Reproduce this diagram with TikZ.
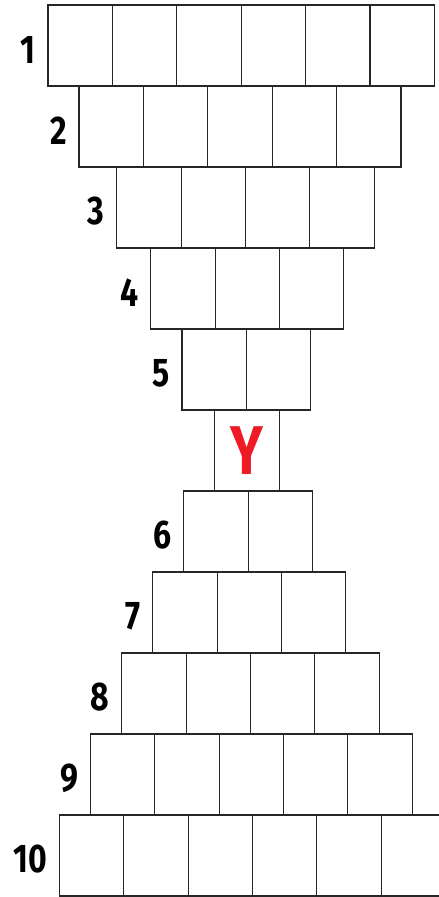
\documentclass[tikz,border=0pt]{standalone}
\usepackage{fontspec}
\newfontfamily\lblfont[FakeStretch=0.8]{Fira Sans}
\definecolor{yred}{HTML}{ED1C24}
\definecolor{edge}{HTML}{262626}
\begin{document}
\begin{tikzpicture}[x=1pt,y=-1pt,
  cell/.style={draw=edge,line width=1.1pt,fill=white,minimum width=64.4pt,minimum height=81pt,inner sep=0pt,outer sep=0pt,anchor=north west},
  rowlabel/.style={anchor=east,inner sep=0pt,font=\lblfont\bfseries\fontsize{40}{40}\selectfont},
  ylabel/.style={font=\lblfont\bfseries\fontsize{69}{69}\selectfont,text=yred,inner sep=0pt}]
\useasboundingbox (0,0) rectangle (439,897);
\clip (0,0) rectangle (439,897);
% top half rows: label / count / left x / top y
\foreach \lab/\n/\x/\y in {1/6/48/5, 2/5/79/86, 3/4/116.7/167, 4/3/150.7/248, 5/2/182/329}{
  \foreach \c in {1,...,\n}{
    \node[cell] (r\lab c\c) at ({\x+(\c-1)*64.4},\y) {};
  }
  \node[rowlabel] (lab\lab) at ({\x-12},{\y+44.5}) {\lab};
}
% centre cell
\node[cell] (ycell) at (214.7,410) {};
\node[ylabel] (ytext) at (247,450.5) {Y};
% bottom half rows
\foreach \lab/\n/\x/\y in {6/2/183.7/491, 7/3/152.7/572, 8/4/121.7/653, 9/5/90.3/734, 10/6/59.3/815}{
  \foreach \c in {1,...,\n}{
    \node[cell] (r\lab c\c) at ({\x+(\c-1)*64.4},\y) {};
  }
  \node[rowlabel] (lab\lab) at ({\x-12},{\y+44.5}) {\lab};
}
\end{tikzpicture}
\end{document}
